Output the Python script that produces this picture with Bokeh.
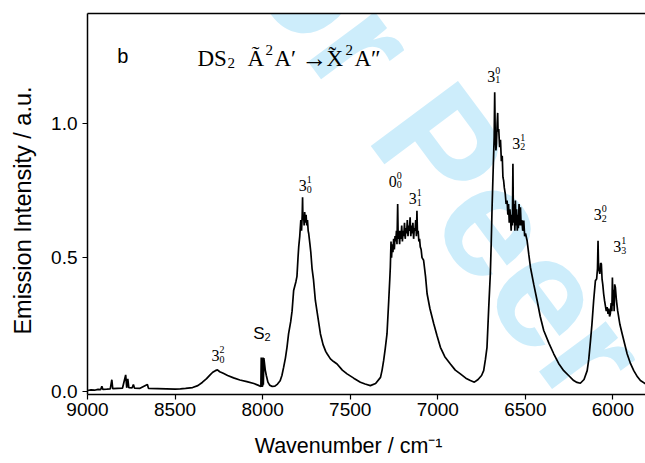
from bokeh.plotting import figure
from bokeh.models import Range1d, FixedTicker, LinearAxis, Label, NumeralTickFormatter
from bokeh.embed import file_html
from bokeh.resources import INLINE

# Emission spectrum of DS2 (wavenumber in cm^-1, intensity in a.u.)
wavenumber = [
    9000, 8980, 8960, 8940, 8925, 8918, 8912, 8890, 8870, 8861, 8856, 8830, 8800,
    8782, 8776, 8770, 8764, 8745, 8738, 8732, 8700, 8658, 8652, 8600, 8550, 8500,
    8470, 8440, 8400, 8370, 8345, 8320, 8300, 8285, 8270, 8258, 8245, 8225, 8200,
    8166, 8130, 8090, 8050, 8020, 8010, 8008, 8006, 8000, 7998, 7996, 7993, 7985,
    7979, 7970, 7960, 7945, 7930, 7915, 7900, 7890, 7880, 7870, 7861, 7852, 7840,
    7832, 7823, 7810, 7804, 7798, 7794, 7788, 7782, 7778, 7774, 7772, 7770, 7766,
    7763, 7760, 7756, 7752, 7748, 7744, 7740, 7737, 7730, 7725, 7718, 7710, 7699,
    7685, 7670, 7655, 7640, 7632, 7613, 7595, 7575, 7545, 7518, 7480, 7442, 7415,
    7385, 7355, 7327, 7318, 7309, 7300, 7290, 7280, 7274, 7271, 7267, 7264, 7260,
    7256, 7252, 7248, 7244, 7240, 7236, 7233, 7229, 7226, 7222, 7218, 7214, 7210,
    7206, 7202, 7198, 7194, 7190, 7186, 7182, 7178, 7174, 7170, 7166, 7162, 7158,
    7154, 7150, 7146, 7142, 7138, 7134, 7130, 7126, 7122, 7119, 7116, 7112, 7108,
    7104, 7100, 7095, 7090, 7081, 7070, 7061, 7045, 7023, 7005, 6985, 6960, 6928,
    6900, 6871, 6840, 6814, 6791, 6770, 6750, 6738, 6728, 6719, 6709, 6700, 6695,
    6690, 6685, 6681, 6678, 6675, 6672, 6668, 6665, 6661, 6658, 6656, 6652, 6647,
    6642, 6637, 6632, 6628, 6624, 6620, 6615, 6610, 6604, 6600, 6596, 6592, 6588,
    6585, 6581, 6578, 6574, 6571, 6568, 6564, 6560, 6557, 6553, 6550, 6546, 6543,
    6540, 6536, 6532, 6528, 6524, 6520, 6515, 6509, 6504, 6499, 6490, 6480, 6471,
    6452, 6433, 6415, 6395, 6365, 6338, 6310, 6281, 6250, 6224, 6205, 6186, 6165,
    6147, 6138, 6128, 6120, 6110, 6100, 6093, 6088, 6085, 6082, 6078, 6075, 6070,
    6066, 6062, 6058, 6053, 6048, 6043, 6038, 6033, 6028, 6024, 6019, 6015, 6010,
    6006, 6003, 6000, 5996, 5993, 5990, 5986, 5980, 5973, 5960, 5947, 5930, 5919,
    5900, 5881, 5860, 5843, 5814,
]
intensity = [
    0.004, 0.006, 0.005, 0.008, 0.007, 0.020, 0.008, 0.009, 0.010, 0.044, 0.011, 0.012, 0.013,
    0.062, 0.014, 0.047, 0.015, 0.014, 0.026, 0.013, 0.012, 0.026, 0.012, 0.011, 0.010, 0.009,
    0.010, 0.012, 0.015, 0.022, 0.034, 0.048, 0.062, 0.072, 0.078, 0.081, 0.074, 0.068, 0.060,
    0.051, 0.043, 0.037, 0.030, 0.022, 0.019, 0.127, 0.020, 0.020, 0.127, 0.025, 0.125, 0.080,
    0.060, 0.035, 0.024, 0.019, 0.020, 0.028, 0.040, 0.060, 0.091, 0.125, 0.165, 0.215, 0.260,
    0.300, 0.377, 0.410, 0.430, 0.500, 0.540, 0.580, 0.640, 0.600, 0.660, 0.725, 0.640, 0.660,
    0.620, 0.670, 0.630, 0.660, 0.620, 0.640, 0.600, 0.590, 0.550, 0.520, 0.460, 0.420, 0.340,
    0.280, 0.215, 0.175, 0.150, 0.141, 0.122, 0.112, 0.103, 0.080, 0.066, 0.050, 0.035, 0.028,
    0.022, 0.030, 0.053, 0.080, 0.116, 0.160, 0.215, 0.340, 0.420, 0.464, 0.560, 0.500, 0.550,
    0.520, 0.570, 0.530, 0.580, 0.560, 0.600, 0.550, 0.700, 0.570, 0.600, 0.550, 0.600, 0.570,
    0.620, 0.560, 0.600, 0.580, 0.630, 0.570, 0.610, 0.590, 0.640, 0.580, 0.620, 0.600, 0.650,
    0.580, 0.620, 0.590, 0.630, 0.570, 0.610, 0.600, 0.640, 0.580, 0.675, 0.590, 0.600, 0.560,
    0.570, 0.540, 0.530, 0.500, 0.490, 0.430, 0.365, 0.310, 0.253, 0.210, 0.165, 0.130, 0.103,
    0.080, 0.066, 0.050, 0.041, 0.035, 0.045, 0.060, 0.078, 0.120, 0.165, 0.315, 0.439, 0.550,
    0.688, 0.800, 0.887, 0.950, 1.117, 0.960, 0.900, 0.925, 1.000, 1.040, 0.970, 0.980, 0.912,
    0.940, 0.860, 0.880, 0.800, 0.787, 0.760, 0.740, 0.700, 0.713, 0.660, 0.700, 0.630, 0.680,
    0.650, 0.600, 0.660, 0.620, 0.850, 0.630, 0.700, 0.600, 0.713, 0.620, 0.680, 0.600, 0.660,
    0.610, 0.700, 0.620, 0.688, 0.620, 0.640, 0.600, 0.638, 0.580, 0.590, 0.563, 0.510, 0.464,
    0.400, 0.340, 0.280, 0.228, 0.180, 0.141, 0.105, 0.078, 0.058, 0.041, 0.034, 0.031, 0.045,
    0.078, 0.120, 0.190, 0.250, 0.340, 0.414, 0.420, 0.460, 0.563, 0.460, 0.450, 0.439, 0.480,
    0.476, 0.420, 0.400, 0.365, 0.340, 0.320, 0.300, 0.315, 0.290, 0.310, 0.280, 0.290, 0.330,
    0.300, 0.426, 0.320, 0.380, 0.300, 0.400, 0.389, 0.340, 0.302, 0.250, 0.215, 0.170, 0.141,
    0.105, 0.078, 0.055, 0.041, 0.029,
]

x_ticks = [9000, 8500, 8000, 7500, 7000, 6500, 6000]
y_ticks = [0.0, 0.5, 1.0]

# Vibronic band assignments: base digit, upper index, lower index
band_base = ["3", "3", "0", "3", "3", "3", "3", "3"]
band_sup = ["2", "1", "0", "1", "0", "1", "0", "1"]
band_sub = ["0", "0", "0", "1", "1", "2", "2", "3"]
# label anchor (left edge, baseline) in canvas pixels
band_px = [211, 298.3, 388.3, 408.3, 486.7, 511.7, 593.3, 612.7]
band_py = [355, 185, 180.7, 198.3, 75.7, 142.7, 214, 246]

W, H = 645, 463
FL, FR, FT, FB = 87, 645, 13, 394
X0, X1 = 9000, 5814
Y0, Y1 = -0.011, 1.411


def dx(px):
    return X0 + (px - FL) * (X1 - X0) / (FR - FL)


def dy(py):
    return Y1 - (py - FT) * (Y1 - Y0) / (FB - FT)


p = figure(width=W, height=H, output_backend="svg", toolbar_location=None,
           x_range=Range1d(X0, X1), y_range=Range1d(Y0, Y1),
           min_border_left=FL, min_border_right=0, min_border_top=FT,
           min_border_bottom=H - FB)
p.outline_line_color = None
p.grid.visible = False
p.background_fill_color = "white"
p.border_fill_color = "white"

SANS = "Liberation Sans"
SERIF = "Liberation Serif"

# watermark, drawn beneath the spectrum
wm_color = "#cdedfb"
wm_angle = -0.93
wm_x, wm_y = 408, 104
for txt, align in (("Peer Review", "left"), ("For ", "right")):
    p.add_layout(Label(x=dx(wm_x), y=dy(wm_y), text=txt, angle=wm_angle,
                       text_font=SANS, text_font_style="bold", text_font_size="158px",
                       text_color=wm_color, text_align=align, text_baseline="middle",
                       level="underlay"))

p.line(wavenumber, intensity, line_color="black", line_width=1.7)

for ax in (p.xaxis[0], p.yaxis[0]):
    ax.axis_line_width = 1.5
    ax.axis_line_color = "black"
    ax.major_tick_line_color = "black"
    ax.major_tick_line_width = 1.2
    ax.major_tick_out = 5
    ax.major_tick_in = 0
    ax.minor_tick_out = 0
    ax.minor_tick_in = 0
    ax.major_label_text_font = SANS
    ax.major_label_text_font_size = "19px"
    ax.major_label_text_color = "black"
    ax.axis_label_text_font = SANS
    ax.axis_label_text_font_style = "normal"
    ax.axis_label_text_color = "black"

p.xaxis.ticker = FixedTicker(ticks=x_ticks)
p.xaxis.major_label_standoff = 3
# trailing no-break spaces shift the centred title a little off centre
p.xaxis.axis_label = "Wavenumber / cm\u207b\u00b9" + "\u00a0" * 6
p.xaxis.axis_label_text_font_size = "21.5px"
p.xaxis.axis_label_standoff = 15

p.yaxis.ticker = FixedTicker(ticks=y_ticks)
p.yaxis.formatter = NumeralTickFormatter(format="0.0")
p.yaxis.major_label_standoff = 5
p.yaxis.axis_label = "Emission Intensity / a.u." + "\u00a0" * 2
p.yaxis.axis_label_text_font_size = "23.5px"
p.yaxis.axis_label_standoff = 12

top = LinearAxis(ticker=FixedTicker(ticks=[]), axis_line_width=1.5,
                 major_tick_out=0, major_tick_in=0, minor_tick_out=0, minor_tick_in=0,
                 major_label_text_font_size="0px", major_label_standoff=0)
p.add_layout(top, "above")


def put(text, px, py, size, font=SERIF, align="left"):
    p.add_layout(Label(x=dx(px), y=dy(py), text=text, text_font=font,
                       text_font_size=f"{size}px", text_color="black",
                       text_align=align, text_baseline="alphabetic"))


# panel letter
put("b", 116.7, 55, 20, SANS)

# title: DS2  Ã 2A' -> X̃ 2A''
ty = 58
put("DS", 197, ty, 23)
put("2", 227, ty + 4, 15)
put("\u00c3", 247, ty, 23)
put("2", 265, ty - 8.5, 15)
put("A\u2032", 274, ty, 23)
put("\u2192", 301, ty, 26)
put("X", 326, ty, 23)
put("\u02dc", 328, ty - 3, 23)
put("2", 345, ty - 8.5, 15)
put("A\u2033", 354, ty, 23)

# S2 marker
put("S", 252.7, 333.3, 17, SANS)
put("2", 264, 336, 11, SANS)

# band labels
for b, up, lo, bx, by in zip(band_base, band_sup, band_sub, band_px, band_py):
    put(b, bx, by, 16)
    put(up, bx + 8, by - 6, 10)
    put(lo, bx + 8, by + 3.5, 10)

open("out.html", "w").write(file_html(p, INLINE))
